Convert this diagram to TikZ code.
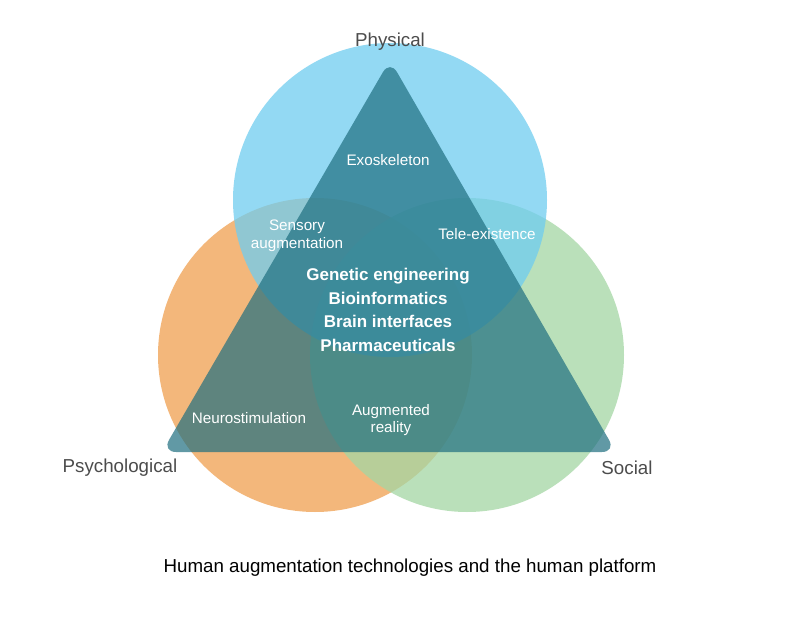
\documentclass[tikz,border=0pt]{standalone}
\usepackage{fontspec}
\setmainfont{Liberation Sans}
\definecolor{phys}{HTML}{6FCDF0}
\definecolor{psych}{HTML}{F0A050}
\definecolor{soc}{HTML}{A4D6A4}
\definecolor{tri}{HTML}{1F6F80}
\tikzset{
  ring/.style={fill=#1, fill opacity=0.75, draw=none},
  tech/.style={text=white, font=\fontsize{13}{15}\selectfont, align=center},
  core/.style={text=white, font=\fontsize{14.5}{20}\selectfont\bfseries, align=center},
  corner/.style={text=black!70, font=\fontsize{16}{18}\selectfont}
}
\begin{document}
\begin{tikzpicture}[x=0.03cm, y=-0.03cm]
        \useasboundingbox[fill=white] (0,0) rectangle (800,620);
        % Circles
        \fill[ring=psych] (315,355) circle (157);
        \fill[ring=soc] (467,355) circle (157);
        \fill[ring=phys] (390,200) circle (157);
        % Triangle
        \fill[tri, fill opacity=0.7, rounded corners=12pt] (390,60) -- (616,452) -- (162,452) -- cycle;

        % Corner labels
        \node[corner] (physical) at (390,42) {Physical};
        \node[corner] (psychological) at (120,468) {Psychological};
        \node[corner] (social) at (627,468) {Social};

        % Technologies
        \node[tech] (exo) at (388,160) {Exoskeleton};
        \node[tech] (sensory) at (297,236) {Sensory\\augmentation};
        \node[tech] (tele) at (487,234) {Tele-existence};
        \node[core] (center) at (388,310) {Genetic engineering\\Bioinformatics\\Brain interfaces\\Pharmaceuticals};
        \node[tech] (neuro) at (249,418) {Neurostimulation};
        \node[tech] (ar) at (391,420) {Augmented\\reality};

        % Caption
        \node[font=\fontsize{16}{18}\selectfont] (caption) at (410,568) {Human augmentation technologies and the human platform};
    \end{tikzpicture}
\end{document}
